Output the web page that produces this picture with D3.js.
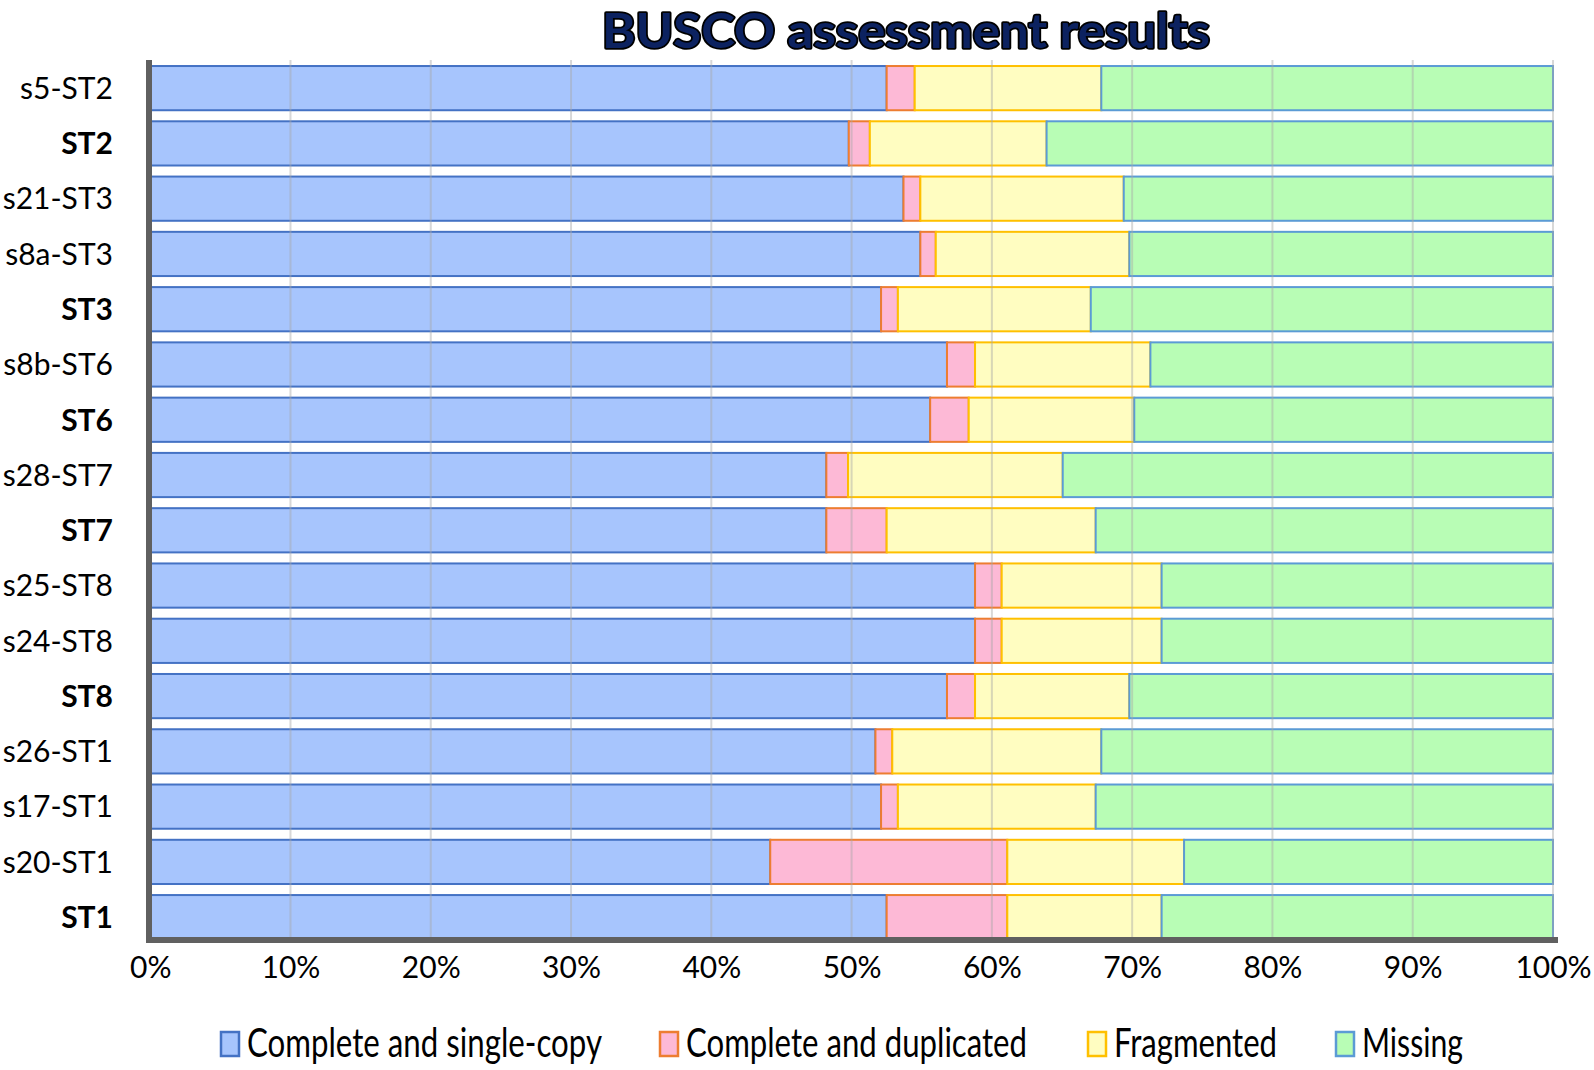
<!DOCTYPE html>
<html>
<head>
<meta charset="utf-8">
<script src="https://cdn.jsdelivr.net/npm/d3@7"></script>
<style>
  html, body { margin: 0; padding: 0; background: #ffffff; }
  svg { display: block; }
  text { font-family: Lato, "Open Sans", "DejaVu Sans", sans-serif; }
</style>
</head>
<body>
<svg id="chart" width="1594" height="1070"></svg>
<script>
// ---------------- data ----------------
const title = "BUSCO assessment results";
const categories = ["s5-ST2","ST2","s21-ST3","s8a-ST3","ST3","s8b-ST6","ST6","s28-ST7","ST7","s25-ST8","s24-ST8","ST8","s26-ST1","s17-ST1","s20-ST1","ST1"];
const boldCategories = ["ST2","ST3","ST6","ST7","ST8","ST1"];
const seriesNames = ["Complete and single-copy","Complete and duplicated","Fragmented","Missing"];
const completeSingle     = [52.5, 49.8, 53.7, 54.9, 52.1, 56.8, 55.6, 48.2, 48.2, 58.8, 58.8, 56.8, 51.7, 52.1, 44.2, 52.5];
const completeDuplicated = [2.0, 1.5, 1.2, 1.1, 1.2, 2.0, 2.75, 1.55, 4.3, 1.9, 1.9, 2.0, 1.2, 1.2, 16.9, 8.6];
const fragmented         = [13.3, 12.6, 14.5, 13.8, 13.75, 12.5, 11.8, 15.3, 14.9, 11.4, 11.4, 11.0, 14.9, 14.1, 12.6, 11.0];
const missing            = [32.2, 36.1, 30.6, 30.2, 32.95, 28.7, 29.85, 34.95, 32.6, 27.9, 27.9, 30.2, 32.2, 32.6, 26.3, 27.9];
const xTicks = [0,10,20,30,40,50,60,70,80,90,100];

// ---------------- styles ----------------
const fills   = ["#a7c5fd", "#fdb9d6", "#fffdc1", "#b8fdb5"];
const strokes = ["#4472c4", "#ed7d31", "#ffc000", "#5b9bd5"];
const legendTextWidths = [355, 341, 163, 101];
const legendMarkerX = [220, 659, 1087, 1335];

const svg = d3.select("#chart");

const rows = categories.map((c, i) => ({
  cat: c,
  [seriesNames[0]]: completeSingle[i],
  [seriesNames[1]]: completeDuplicated[i],
  [seriesNames[2]]: fragmented[i],
  [seriesNames[3]]: missing[i]
}));

const x = d3.scaleLinear().domain([0, 100]).range([150.2, 1553]);
const y = d3.scaleBand().domain(categories).range([60.5, 944.8]).paddingInner(0.2).paddingOuter(0.1);

const stacked = d3.stack().keys(seriesNames)(rows);

// bars
const layers = svg.append("g").selectAll("g")
  .data(stacked).join("g")
  .attr("fill", (d, i) => fills[i])
  .attr("stroke", (d, i) => strokes[i])
  .attr("stroke-width", 2);

layers.selectAll("rect")
  .data(d => d)
  .join("rect")
  .attr("x", d => x(d[0]))
  .attr("y", d => y(d.data.cat))
  .attr("width", d => x(d[1]) - x(d[0]))
  .attr("height", y.bandwidth());

// gridlines (drawn over the bars, translucent)
svg.append("g").selectAll("line")
  .data(xTicks).join("line")
  .attr("x1", d => x(d)).attr("x2", d => x(d))
  .attr("y1", 60).attr("y2", 940)
  .attr("stroke", "#a8a8a8")
  .attr("stroke-opacity", 0.45)
  .attr("stroke-width", 2);

// axes lines
svg.append("line")
  .attr("x1", 146).attr("x2", 1558)
  .attr("y1", 940).attr("y2", 940)
  .attr("stroke", "#606060").attr("stroke-width", 6);
svg.append("line")
  .attr("x1", 149).attr("x2", 149)
  .attr("y1", 60).attr("y2", 943)
  .attr("stroke", "#606060").attr("stroke-width", 6);

// x-axis tick labels
const xAxis = d3.axisBottom(x).tickValues(xTicks).tickSize(0).tickFormat(d => d + "%");
const gx = svg.append("g").attr("transform", "translate(0,940)").call(xAxis);
gx.select(".domain").remove();
gx.selectAll("text")
  .attr("y", 38).attr("dy", 0)
  .attr("fill", "#000")
  .style("font-family", "Lato, sans-serif")
  .style("font-size", "30px");

// y-axis category labels
const yAxis = d3.axisLeft(y).tickSize(0).tickPadding(36);
const gy = svg.append("g").attr("transform", "translate(149,0)").call(yAxis);
gy.select(".domain").remove();
gy.selectAll("text")
  .attr("dy", "0.36em")
  .attr("fill", "#000")
  .style("font-family", "Lato, sans-serif")
  .style("font-size", "30px")
  .style("font-weight", d => boldCategories.includes(d) ? "bold" : "normal");

// title
svg.append("text")
  .attr("x", 906).attr("y", 48)
  .attr("text-anchor", "middle")
  .attr("textLength", 608)
  .attr("lengthAdjust", "spacingAndGlyphs")
  .style("font-family", "Lato, sans-serif")
  .style("font-weight", "700")
  .style("font-size", "48px")
  .attr("fill", "#0c2260")
  .attr("stroke", "#000")
  .attr("stroke-width", 3.5)
  .attr("stroke-linejoin", "round")
  .attr("paint-order", "stroke")
  .text(title);

// legend
const lg = svg.append("g").selectAll("g")
  .data(seriesNames).join("g");
lg.append("rect")
  .attr("x", (d, i) => legendMarkerX[i] + 1)
  .attr("y", 1032)
  .attr("width", 18).attr("height", 24)
  .attr("fill", (d, i) => fills[i])
  .attr("stroke", (d, i) => strokes[i])
  .attr("stroke-width", 2.5);
lg.append("text")
  .attr("x", (d, i) => legendMarkerX[i] + 27)
  .attr("y", 1057)
  .attr("textLength", (d, i) => legendTextWidths[i])
  .attr("lengthAdjust", "spacingAndGlyphs")
  .style("font-family", "Lato, sans-serif")
  .style("font-size", "41px")
  .attr("fill", "#000")
  .text(d => d);
</script>
</body>
</html>
